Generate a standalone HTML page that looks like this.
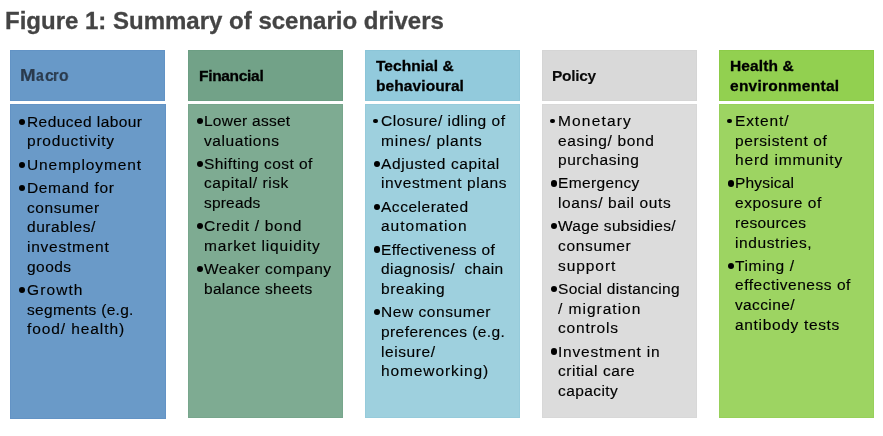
<!DOCTYPE html>
<html><head><meta charset="utf-8"><style>
html,body{margin:0;padding:0;background:#fff;width:883px;height:436px;overflow:hidden;position:relative;font-family:"Liberation Sans",sans-serif;}
.t{position:absolute;will-change:transform;left:4.5px;top:6.8px;font-size:24px;font-weight:bold;color:#444;white-space:nowrap;line-height:28px;-webkit-text-stroke:0.3px #444;}
.h,.bd{position:absolute;box-sizing:border-box;border:1px solid;}
.ln{position:absolute;will-change:transform;white-space:nowrap;font-size:15.5px;line-height:20px;height:20px;color:#000;-webkit-text-stroke:0.15px #000;}
.hl{position:absolute;will-change:transform;white-space:nowrap;font-size:15.5px;font-weight:bold;line-height:20px;height:20px;color:#000;-webkit-text-stroke:0.3px #000;}
.hm{position:absolute;will-change:transform;white-space:nowrap;font-size:16px;font-weight:bold;line-height:20px;height:20px;color:#2a3a4c;-webkit-text-stroke:0.2px #2a3a4c;transform-origin:0 0;}
.bu{position:absolute;border-radius:50%;background:#000;}
</style></head><body>
<div class="t">Figure 1: Summary of scenario drivers</div>
<div class="h" style="left:10px;top:50px;width:155px;height:51px;background:#6899c8;border-color:#6293c5"></div>
<div class="bd" style="left:10px;top:104px;width:156px;height:315px;background:#6a9ac8;border-color:#6393c5"></div>
<div class="hm" style="left:19.6px;top:65.7px;transform:scaleX(1.17)">M</div>
<div class="hm" style="left:35.8px;top:65.7px;transform:scaleX(0.86)">a</div>
<div class="hm" style="left:45.0px;top:65.7px;transform:scaleX(0.98)">c</div>
<div class="hm" style="left:53.1px;top:65.7px;transform:scaleX(0.9)">r</div>
<div class="hm" style="left:59.0px;top:65.7px;transform:scaleX(0.97)">o</div>
<div class="ln" style="left:27.0px;top:111.7px;letter-spacing:0.43px;">Reduced labour</div>
<div class="bu" style="left:19.2px;top:118.5px;width:6.3px;height:6.3px"></div>
<div class="ln" style="left:27.0px;top:131.4px;letter-spacing:0.79px;">productivity</div>
<div class="ln" style="left:27.0px;top:154.6px;letter-spacing:0.90px;">Unemployment</div>
<div class="bu" style="left:19.2px;top:161.5px;width:6.3px;height:6.3px"></div>
<div class="ln" style="left:27.0px;top:177.9px;letter-spacing:0.65px;">Demand for</div>
<div class="bu" style="left:19.2px;top:184.7px;width:6.3px;height:6.3px"></div>
<div class="ln" style="left:27.0px;top:197.6px;letter-spacing:0.59px;">consumer</div>
<div class="ln" style="left:27.0px;top:217.2px;letter-spacing:0.56px;">durables/</div>
<div class="ln" style="left:27.0px;top:236.9px;letter-spacing:0.76px;">investment</div>
<div class="ln" style="left:27.0px;top:256.6px;letter-spacing:0.47px;">goods</div>
<div class="ln" style="left:27.0px;top:279.9px;letter-spacing:1.10px;">Growth</div>
<div class="bu" style="left:19.2px;top:286.7px;width:6.3px;height:6.3px"></div>
<div class="ln" style="left:27.0px;top:299.5px;letter-spacing:0.30px;">segments (e.g.</div>
<div class="ln" style="left:27.0px;top:319.2px;letter-spacing:0.91px;">food/ health)</div>
<div class="h" style="left:188px;top:50px;width:155px;height:51px;background:#72a288;border-color:#6c9e83"></div>
<div class="bd" style="left:188px;top:104px;width:155px;height:314px;background:#7eab92;border-color:#77a68c"></div>
<div class="hl" style="left:198.5px;top:65.7px;letter-spacing:-0.31px;">Financial</div>
<div class="ln" style="left:204.0px;top:110.8px;letter-spacing:0.25px;">Lower asset</div>
<div class="bu" style="left:196.7px;top:117.6px;width:6.3px;height:6.3px"></div>
<div class="ln" style="left:204.0px;top:130.5px;letter-spacing:0.58px;">valuations</div>
<div class="ln" style="left:204.0px;top:153.7px;letter-spacing:0.44px;">Shifting cost of</div>
<div class="bu" style="left:196.7px;top:160.6px;width:6.3px;height:6.3px"></div>
<div class="ln" style="left:204.0px;top:173.4px;letter-spacing:0.57px;">capital/ risk</div>
<div class="ln" style="left:204.0px;top:193.1px;letter-spacing:0.19px;">spreads</div>
<div class="ln" style="left:204.0px;top:216.3px;letter-spacing:0.72px;">Credit / bond</div>
<div class="bu" style="left:196.7px;top:223.2px;width:6.3px;height:6.3px"></div>
<div class="ln" style="left:204.0px;top:236.0px;letter-spacing:0.83px;">market liquidity</div>
<div class="ln" style="left:204.0px;top:259.3px;letter-spacing:0.52px;">Weaker company</div>
<div class="bu" style="left:196.7px;top:266.1px;width:6.3px;height:6.3px"></div>
<div class="ln" style="left:204.0px;top:278.9px;letter-spacing:0.30px;">balance sheets</div>
<div class="h" style="left:365px;top:50px;width:155px;height:51px;background:#92cadc;border-color:#8bc5d8"></div>
<div class="bd" style="left:365px;top:104px;width:155px;height:314px;background:#9ed0de;border-color:#96cbdb"></div>
<div class="hl" style="left:375.5px;top:55.7px;letter-spacing:0.04px;">Technial &</div>
<div class="hl" style="left:375.5px;top:75.6px;letter-spacing:0.09px;">behavioural</div>
<div class="ln" style="left:381.0px;top:110.8px;letter-spacing:0.50px;">Closure/ idling of</div>
<div class="bu" style="left:373.2px;top:118.5px;width:4.5px;height:4.5px"></div>
<div class="ln" style="left:381.0px;top:130.5px;letter-spacing:0.78px;">mines/ plants</div>
<div class="ln" style="left:381.0px;top:153.7px;letter-spacing:0.59px;">Adjusted capital</div>
<div class="bu" style="left:373.7px;top:160.6px;width:6.3px;height:6.3px"></div>
<div class="ln" style="left:381.0px;top:173.4px;letter-spacing:0.62px;">investment plans</div>
<div class="ln" style="left:381.0px;top:196.7px;letter-spacing:0.52px;">Accelerated</div>
<div class="bu" style="left:373.7px;top:203.5px;width:6.3px;height:6.3px"></div>
<div class="ln" style="left:381.0px;top:216.3px;letter-spacing:0.99px;">automation</div>
<div class="ln" style="left:381.0px;top:239.6px;letter-spacing:0.31px;">Effectiveness of</div>
<div class="bu" style="left:373.7px;top:246.4px;width:6.3px;height:6.3px"></div>
<div class="ln" style="left:381.0px;top:259.3px;letter-spacing:0.42px;">diagnosis/&nbsp; chain</div>
<div class="ln" style="left:381.0px;top:278.9px;letter-spacing:0.60px;">breaking</div>
<div class="ln" style="left:381.0px;top:302.2px;letter-spacing:0.56px;">New consumer</div>
<div class="bu" style="left:373.7px;top:309.1px;width:6.3px;height:6.3px"></div>
<div class="ln" style="left:381.0px;top:321.9px;letter-spacing:0.42px;">preferences (e.g.</div>
<div class="ln" style="left:381.0px;top:341.6px;letter-spacing:0.58px;">leisure/</div>
<div class="ln" style="left:381.0px;top:361.2px;letter-spacing:0.90px;">homeworking)</div>
<div class="h" style="left:542px;top:50px;width:155px;height:51px;background:#d9d9d9;border-color:#d5d5d5"></div>
<div class="bd" style="left:542px;top:104px;width:155px;height:314px;background:#dcdcdc;border-color:#d8d8d8"></div>
<div class="hl" style="left:551.5px;top:65.7px;font-size:15.5px;color:#0a0a0a;-webkit-text-stroke:0.1px #0a0a0a;letter-spacing:-0.32px;">Policy</div>
<div class="ln" style="left:558.0px;top:110.8px;letter-spacing:1.17px;">Monetary</div>
<div class="bu" style="left:550.2px;top:118.5px;width:4.5px;height:4.5px"></div>
<div class="ln" style="left:558.0px;top:130.5px;letter-spacing:0.65px;">easing/ bond</div>
<div class="ln" style="left:558.0px;top:150.2px;letter-spacing:0.55px;">purchasing</div>
<div class="ln" style="left:558.0px;top:173.4px;letter-spacing:0.37px;">Emergency</div>
<div class="bu" style="left:550.6px;top:180.3px;width:6.3px;height:6.3px"></div>
<div class="ln" style="left:558.0px;top:193.1px;letter-spacing:0.62px;">loans/ bail outs</div>
<div class="ln" style="left:558.0px;top:216.3px;letter-spacing:0.32px;">Wage subsidies/</div>
<div class="bu" style="left:550.6px;top:223.2px;width:6.3px;height:6.3px"></div>
<div class="ln" style="left:558.0px;top:236.0px;letter-spacing:0.66px;">consumer</div>
<div class="ln" style="left:558.0px;top:255.7px;letter-spacing:0.94px;">support</div>
<div class="ln" style="left:558.0px;top:278.9px;letter-spacing:0.33px;">Social distancing</div>
<div class="bu" style="left:550.6px;top:285.8px;width:6.3px;height:6.3px"></div>
<div class="ln" style="left:558.0px;top:298.6px;letter-spacing:1.00px;">/ migration</div>
<div class="ln" style="left:558.0px;top:318.3px;letter-spacing:0.81px;">controls</div>
<div class="ln" style="left:558.0px;top:341.6px;letter-spacing:0.78px;">Investment in</div>
<div class="bu" style="left:550.6px;top:348.4px;width:6.3px;height:6.3px"></div>
<div class="ln" style="left:558.0px;top:361.2px;letter-spacing:0.55px;">critial care</div>
<div class="ln" style="left:558.0px;top:380.9px;letter-spacing:0.41px;">capacity</div>
<div class="h" style="left:719px;top:50px;width:155px;height:51px;background:#92d050;border-color:#8ccb48"></div>
<div class="bd" style="left:719px;top:104px;width:155px;height:314px;background:#9dd462;border-color:#97d05a"></div>
<div class="hl" style="left:729.5px;top:55.7px;letter-spacing:0.13px;">Health &</div>
<div class="hl" style="left:729.5px;top:75.6px;letter-spacing:0.26px;">environmental</div>
<div class="ln" style="left:735.0px;top:110.8px;letter-spacing:0.87px;">Extent/</div>
<div class="bu" style="left:727.2px;top:118.5px;width:4.5px;height:4.5px"></div>
<div class="ln" style="left:735.0px;top:130.5px;letter-spacing:0.61px;">persistent of</div>
<div class="ln" style="left:735.0px;top:150.2px;letter-spacing:0.82px;">herd immunity</div>
<div class="ln" style="left:735.0px;top:173.4px;letter-spacing:0.17px;">Physical</div>
<div class="bu" style="left:727.6px;top:180.3px;width:6.3px;height:6.3px"></div>
<div class="ln" style="left:735.0px;top:193.1px;letter-spacing:0.52px;">exposure of</div>
<div class="ln" style="left:735.0px;top:212.8px;letter-spacing:0.36px;">resources</div>
<div class="ln" style="left:735.0px;top:232.5px;letter-spacing:0.60px;">industries,</div>
<div class="ln" style="left:735.0px;top:255.7px;letter-spacing:0.63px;">Timing /</div>
<div class="bu" style="left:727.6px;top:262.6px;width:6.3px;height:6.3px"></div>
<div class="ln" style="left:735.0px;top:275.4px;letter-spacing:0.53px;">effectiveness of</div>
<div class="ln" style="left:735.0px;top:295.1px;letter-spacing:0.37px;">vaccine/</div>
<div class="ln" style="left:735.0px;top:314.7px;letter-spacing:0.67px;">antibody tests</div>
</body></html>
